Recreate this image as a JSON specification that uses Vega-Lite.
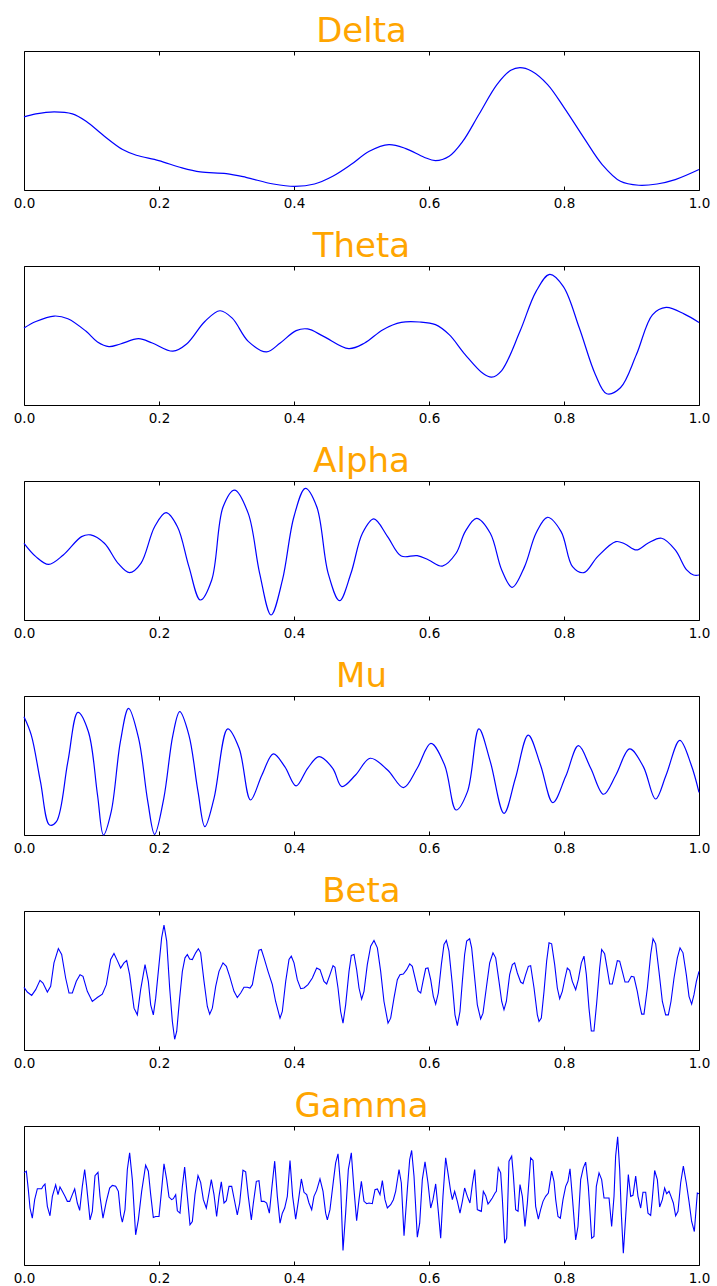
{
"$schema":"https://vega.github.io/schema/vega-lite/v6.json",
"background":"white",
"padding":{"left":12,"top":14,"right":5,"bottom":5},
"spacing":19,
"datasets":{
"delta":[{"t":0,"v":0.526},{"t":0.0176,"v":0.548},{"t":0.0447,"v":0.5625},{"t":0.0717,"v":0.548},{"t":0.092,"v":0.495},{"t":0.1191,"v":0.387},{"t":0.1461,"v":0.291},{"t":0.1664,"v":0.25},{"t":0.1996,"v":0.2115},{"t":0.2341,"v":0.159},{"t":0.2612,"v":0.13},{"t":0.2997,"v":0.118},{"t":0.3288,"v":0.091},{"t":0.3694,"v":0.043},{"t":0.4012,"v":0.026},{"t":0.4303,"v":0.043},{"t":0.4574,"v":0.099},{"t":0.4844,"v":0.183},{"t":0.5115,"v":0.279},{"t":0.5406,"v":0.327},{"t":0.5656,"v":0.298},{"t":0.5927,"v":0.236},{"t":0.6096,"v":0.2115},{"t":0.6299,"v":0.243},{"t":0.6502,"v":0.351},{"t":0.6739,"v":0.543},{"t":0.7009,"v":0.76},{"t":0.7212,"v":0.861},{"t":0.7348,"v":0.88},{"t":0.7517,"v":0.856},{"t":0.7754,"v":0.76},{"t":0.8004,"v":0.591},{"t":0.8295,"v":0.375},{"t":0.8566,"v":0.183},{"t":0.8836,"v":0.0625},{"t":0.9107,"v":0.034},{"t":0.9378,"v":0.043},{"t":0.9648,"v":0.0745},{"t":1,"v":0.147}],
"theta":[{"t":0,"v":0.554},{"t":0.0176,"v":0.601},{"t":0.0447,"v":0.64},{"t":0.065,"v":0.621},{"t":0.092,"v":0.53},{"t":0.1089,"v":0.453},{"t":0.1258,"v":0.42},{"t":0.1428,"v":0.439},{"t":0.1698,"v":0.477},{"t":0.1901,"v":0.446},{"t":0.2206,"v":0.387},{"t":0.2409,"v":0.439},{"t":0.2679,"v":0.601},{"t":0.2903,"v":0.678},{"t":0.3085,"v":0.625},{"t":0.3322,"v":0.458},{"t":0.3593,"v":0.382},{"t":0.3796,"v":0.446},{"t":0.4032,"v":0.535},{"t":0.4202,"v":0.547},{"t":0.4438,"v":0.494},{"t":0.4811,"v":0.406},{"t":0.5047,"v":0.446},{"t":0.5318,"v":0.542},{"t":0.5589,"v":0.594},{"t":0.5859,"v":0.597},{"t":0.6096,"v":0.578},{"t":0.6299,"v":0.506},{"t":0.6536,"v":0.363},{"t":0.6807,"v":0.224},{"t":0.6928,"v":0.2},{"t":0.7077,"v":0.248},{"t":0.7348,"v":0.53},{"t":0.7585,"v":0.816},{"t":0.7788,"v":0.94},{"t":0.7991,"v":0.852},{"t":0.8227,"v":0.554},{"t":0.8464,"v":0.22},{"t":0.8633,"v":0.081},{"t":0.8836,"v":0.124},{"t":0.9073,"v":0.363},{"t":0.931,"v":0.649},{"t":0.9513,"v":0.702},{"t":0.9784,"v":0.654},{"t":1,"v":0.594}],
"alpha":[{"t":0,"v":0.552},{"t":0.0176,"v":0.456},{"t":0.0365,"v":0.4},{"t":0.0582,"v":0.468},{"t":0.0853,"v":0.6},{"t":0.0988,"v":0.612},{"t":0.1191,"v":0.552},{"t":0.1394,"v":0.408},{"t":0.1563,"v":0.341},{"t":0.1732,"v":0.408},{"t":0.1935,"v":0.671},{"t":0.2104,"v":0.772},{"t":0.2273,"v":0.671},{"t":0.2443,"v":0.384},{"t":0.2612,"v":0.144},{"t":0.2781,"v":0.288},{"t":0.295,"v":0.815},{"t":0.3119,"v":0.935},{"t":0.3322,"v":0.767},{"t":0.3491,"v":0.336},{"t":0.366,"v":0.036},{"t":0.3829,"v":0.288},{"t":0.3999,"v":0.743},{"t":0.4168,"v":0.947},{"t":0.4337,"v":0.815},{"t":0.4506,"v":0.336},{"t":0.4675,"v":0.139},{"t":0.4844,"v":0.336},{"t":0.5014,"v":0.624},{"t":0.5183,"v":0.727},{"t":0.5386,"v":0.6},{"t":0.5589,"v":0.46},{"t":0.5825,"v":0.463},{"t":0.5995,"v":0.432},{"t":0.6198,"v":0.388},{"t":0.6401,"v":0.48},{"t":0.6536,"v":0.636},{"t":0.6705,"v":0.731},{"t":0.6908,"v":0.624},{"t":0.7077,"v":0.36},{"t":0.7233,"v":0.235},{"t":0.7416,"v":0.384},{"t":0.7585,"v":0.624},{"t":0.7754,"v":0.739},{"t":0.7957,"v":0.636},{"t":0.8126,"v":0.384},{"t":0.8295,"v":0.341},{"t":0.8498,"v":0.456},{"t":0.8769,"v":0.564},{"t":0.8904,"v":0.547},{"t":0.9073,"v":0.504},{"t":0.9242,"v":0.552},{"t":0.9445,"v":0.588},{"t":0.9648,"v":0.504},{"t":0.9817,"v":0.36},{"t":0.9919,"v":0.324},{"t":1,"v":0.324}],
"mu":[{"t":0,"v":0.851},{"t":0.0108,"v":0.719},{"t":0.0244,"v":0.384},{"t":0.0379,"v":0.072},{"t":0.048,"v":0.096},{"t":0.065,"v":0.528},{"t":0.0798,"v":0.882},{"t":0.0954,"v":0.743},{"t":0.1089,"v":0.288},{"t":0.1177,"v":0},{"t":0.1292,"v":0.168},{"t":0.1428,"v":0.671},{"t":0.1549,"v":0.911},{"t":0.1698,"v":0.695},{"t":0.1834,"v":0.24},{"t":0.1935,"v":0.005},{"t":0.2071,"v":0.264},{"t":0.2206,"v":0.719},{"t":0.2307,"v":0.887},{"t":0.2443,"v":0.719},{"t":0.2578,"v":0.312},{"t":0.2679,"v":0.06},{"t":0.2815,"v":0.264},{"t":0.3018,"v":0.763},{"t":0.3187,"v":0.624},{"t":0.3356,"v":0.252},{"t":0.3525,"v":0.432},{"t":0.3694,"v":0.583},{"t":0.3863,"v":0.492},{"t":0.4032,"v":0.353},{"t":0.4202,"v":0.48},{"t":0.4371,"v":0.564},{"t":0.4574,"v":0.48},{"t":0.4709,"v":0.348},{"t":0.4912,"v":0.432},{"t":0.5129,"v":0.552},{"t":0.5386,"v":0.468},{"t":0.5622,"v":0.341},{"t":0.5825,"v":0.48},{"t":0.6028,"v":0.659},{"t":0.6231,"v":0.504},{"t":0.6401,"v":0.18},{"t":0.657,"v":0.312},{"t":0.6739,"v":0.763},{"t":0.6908,"v":0.528},{"t":0.7111,"v":0.156},{"t":0.728,"v":0.408},{"t":0.747,"v":0.719},{"t":0.7652,"v":0.504},{"t":0.7835,"v":0.233},{"t":0.8024,"v":0.42},{"t":0.8214,"v":0.643},{"t":0.8396,"v":0.48},{"t":0.8586,"v":0.293},{"t":0.8769,"v":0.432},{"t":0.8972,"v":0.619},{"t":0.9175,"v":0.492},{"t":0.9357,"v":0.259},{"t":0.9513,"v":0.432},{"t":0.9716,"v":0.681},{"t":0.9885,"v":0.504},{"t":1,"v":0.307}],
"beta":[{"t":0,"v":0.451},{"t":0.0049,"v":0.417},{"t":0.0114,"v":0.393},{"t":0.0173,"v":0.434},{"t":0.0237,"v":0.501},{"t":0.0281,"v":0.482},{"t":0.0346,"v":0.417},{"t":0.0395,"v":0.458},{"t":0.0444,"v":0.627},{"t":0.0509,"v":0.73},{"t":0.0558,"v":0.687},{"t":0.0617,"v":0.518},{"t":0.0667,"v":0.41},{"t":0.0716,"v":0.41},{"t":0.0775,"v":0.494},{"t":0.083,"v":0.542},{"t":0.0874,"v":0.53},{"t":0.0938,"v":0.422},{"t":0.1012,"v":0.349},{"t":0.1086,"v":0.378},{"t":0.116,"v":0.402},{"t":0.122,"v":0.47},{"t":0.1284,"v":0.651},{"t":0.1333,"v":0.694},{"t":0.1383,"v":0.643},{"t":0.1432,"v":0.59},{"t":0.1481,"v":0.627},{"t":0.1521,"v":0.643},{"t":0.1565,"v":0.542},{"t":0.163,"v":0.301},{"t":0.1679,"v":0.253},{"t":0.1728,"v":0.434},{"t":0.1793,"v":0.614},{"t":0.1842,"v":0.494},{"t":0.1877,"v":0.325},{"t":0.1916,"v":0.253},{"t":0.1951,"v":0.373},{"t":0.2,"v":0.614},{"t":0.2039,"v":0.807},{"t":0.2074,"v":0.899},{"t":0.2114,"v":0.783},{"t":0.2158,"v":0.446},{"t":0.2198,"v":0.205},{"t":0.2232,"v":0.077},{"t":0.2262,"v":0.133},{"t":0.2306,"v":0.373},{"t":0.2346,"v":0.566},{"t":0.2385,"v":0.663},{"t":0.242,"v":0.687},{"t":0.2454,"v":0.655},{"t":0.2494,"v":0.651},{"t":0.2543,"v":0.699},{"t":0.2583,"v":0.728},{"t":0.2617,"v":0.699},{"t":0.2667,"v":0.494},{"t":0.2716,"v":0.313},{"t":0.2751,"v":0.258},{"t":0.279,"v":0.301},{"t":0.284,"v":0.458},{"t":0.2889,"v":0.566},{"t":0.2948,"v":0.627},{"t":0.2998,"v":0.602},{"t":0.3047,"v":0.53},{"t":0.3111,"v":0.422},{"t":0.316,"v":0.378},{"t":0.321,"v":0.41},{"t":0.3259,"v":0.451},{"t":0.3309,"v":0.451},{"t":0.3348,"v":0.446},{"t":0.3383,"v":0.47},{"t":0.3432,"v":0.602},{"t":0.3481,"v":0.718},{"t":0.3516,"v":0.723},{"t":0.3556,"v":0.663},{"t":0.3615,"v":0.566},{"t":0.3679,"v":0.47},{"t":0.3728,"v":0.349},{"t":0.3793,"v":0.229},{"t":0.3827,"v":0.277},{"t":0.3877,"v":0.494},{"t":0.3926,"v":0.651},{"t":0.396,"v":0.675},{"t":0.4,"v":0.627},{"t":0.4049,"v":0.506},{"t":0.4099,"v":0.441},{"t":0.4148,"v":0.446},{"t":0.4207,"v":0.47},{"t":0.4272,"v":0.518},{"t":0.4336,"v":0.59},{"t":0.4385,"v":0.578},{"t":0.4444,"v":0.494},{"t":0.4484,"v":0.475},{"t":0.4533,"v":0.542},{"t":0.4578,"v":0.607},{"t":0.4607,"v":0.595},{"t":0.4652,"v":0.446},{"t":0.4691,"v":0.277},{"t":0.4726,"v":0.193},{"t":0.4765,"v":0.325},{"t":0.4815,"v":0.566},{"t":0.4849,"v":0.68},{"t":0.4889,"v":0.687},{"t":0.4928,"v":0.578},{"t":0.4963,"v":0.446},{"t":0.5002,"v":0.366},{"t":0.5037,"v":0.422},{"t":0.5086,"v":0.614},{"t":0.5136,"v":0.747},{"t":0.5185,"v":0.788},{"t":0.5235,"v":0.735},{"t":0.5284,"v":0.566},{"t":0.5333,"v":0.349},{"t":0.5393,"v":0.193},{"t":0.5432,"v":0.229},{"t":0.5481,"v":0.373},{"t":0.5531,"v":0.506},{"t":0.557,"v":0.542},{"t":0.562,"v":0.547},{"t":0.5669,"v":0.578},{"t":0.5714,"v":0.619},{"t":0.5753,"v":0.602},{"t":0.5793,"v":0.518},{"t":0.5837,"v":0.427},{"t":0.5877,"v":0.41},{"t":0.5911,"v":0.494},{"t":0.5951,"v":0.586},{"t":0.5985,"v":0.59},{"t":0.6025,"v":0.506},{"t":0.6064,"v":0.386},{"t":0.6099,"v":0.33},{"t":0.6138,"v":0.41},{"t":0.6183,"v":0.614},{"t":0.6222,"v":0.759},{"t":0.6257,"v":0.788},{"t":0.6296,"v":0.711},{"t":0.6346,"v":0.47},{"t":0.6385,"v":0.253},{"t":0.642,"v":0.176},{"t":0.6459,"v":0.277},{"t":0.6494,"v":0.494},{"t":0.6528,"v":0.687},{"t":0.6558,"v":0.783},{"t":0.6602,"v":0.8},{"t":0.6632,"v":0.735},{"t":0.6667,"v":0.566},{"t":0.6716,"v":0.325},{"t":0.6765,"v":0.224},{"t":0.68,"v":0.265},{"t":0.6849,"v":0.446},{"t":0.6899,"v":0.627},{"t":0.6948,"v":0.699},{"t":0.6988,"v":0.663},{"t":0.7037,"v":0.494},{"t":0.7077,"v":0.349},{"t":0.7111,"v":0.289},{"t":0.7146,"v":0.349},{"t":0.7195,"v":0.542},{"t":0.7235,"v":0.614},{"t":0.7269,"v":0.627},{"t":0.7309,"v":0.554},{"t":0.7358,"v":0.489},{"t":0.7393,"v":0.477},{"t":0.7432,"v":0.542},{"t":0.7472,"v":0.602},{"t":0.7506,"v":0.607},{"t":0.7556,"v":0.446},{"t":0.7605,"v":0.253},{"t":0.763,"v":0.205},{"t":0.7664,"v":0.229},{"t":0.7704,"v":0.422},{"t":0.7743,"v":0.639},{"t":0.7778,"v":0.771},{"t":0.7817,"v":0.764},{"t":0.7862,"v":0.614},{"t":0.7901,"v":0.446},{"t":0.7936,"v":0.369},{"t":0.7975,"v":0.422},{"t":0.8015,"v":0.518},{"t":0.8049,"v":0.59},{"t":0.8084,"v":0.573},{"t":0.8123,"v":0.494},{"t":0.8173,"v":0.434},{"t":0.8212,"v":0.506},{"t":0.8257,"v":0.627},{"t":0.8296,"v":0.675},{"t":0.8331,"v":0.542},{"t":0.837,"v":0.301},{"t":0.8405,"v":0.137},{"t":0.8444,"v":0.137},{"t":0.8484,"v":0.337},{"t":0.8528,"v":0.59},{"t":0.8558,"v":0.723},{"t":0.8602,"v":0.692},{"t":0.8642,"v":0.578},{"t":0.8677,"v":0.475},{"t":0.8716,"v":0.475},{"t":0.8756,"v":0.566},{"t":0.879,"v":0.643},{"t":0.8825,"v":0.639},{"t":0.8864,"v":0.566},{"t":0.8904,"v":0.489},{"t":0.8953,"v":0.489},{"t":0.8998,"v":0.53},{"t":0.9037,"v":0.525},{"t":0.9086,"v":0.422},{"t":0.9121,"v":0.325},{"t":0.9151,"v":0.258},{"t":0.9185,"v":0.258},{"t":0.9235,"v":0.446},{"t":0.9284,"v":0.687},{"t":0.9319,"v":0.8},{"t":0.9358,"v":0.764},{"t":0.9407,"v":0.566},{"t":0.9457,"v":0.349},{"t":0.9506,"v":0.253},{"t":0.9546,"v":0.253},{"t":0.9585,"v":0.349},{"t":0.963,"v":0.518},{"t":0.9679,"v":0.663},{"t":0.9719,"v":0.735},{"t":0.9763,"v":0.699},{"t":0.9812,"v":0.542},{"t":0.9852,"v":0.386},{"t":0.9891,"v":0.33},{"t":0.9926,"v":0.398},{"t":0.9961,"v":0.494},{"t":1,"v":0.566}],
"gamma":[{"t":0,"v":0.663},{"t":0.0035,"v":0.675},{"t":0.0064,"v":0.542},{"t":0.0089,"v":0.41},{"t":0.0123,"v":0.337},{"t":0.0158,"v":0.47},{"t":0.0198,"v":0.549},{"t":0.0232,"v":0.549},{"t":0.0262,"v":0.549},{"t":0.0281,"v":0.566},{"t":0.0311,"v":0.583},{"t":0.0346,"v":0.422},{"t":0.0385,"v":0.354},{"t":0.042,"v":0.494},{"t":0.0469,"v":0.576},{"t":0.0504,"v":0.506},{"t":0.0533,"v":0.561},{"t":0.0568,"v":0.53},{"t":0.0607,"v":0.494},{"t":0.0642,"v":0.458},{"t":0.0677,"v":0.458},{"t":0.0716,"v":0.506},{"t":0.0751,"v":0.547},{"t":0.079,"v":0.446},{"t":0.0825,"v":0.393},{"t":0.0864,"v":0.566},{"t":0.0899,"v":0.687},{"t":0.0928,"v":0.566},{"t":0.0978,"v":0.325},{"t":0.1012,"v":0.386},{"t":0.1052,"v":0.643},{"t":0.1096,"v":0.667},{"t":0.1126,"v":0.494},{"t":0.117,"v":0.337},{"t":0.122,"v":0.458},{"t":0.1269,"v":0.554},{"t":0.1309,"v":0.573},{"t":0.1358,"v":0.566},{"t":0.1398,"v":0.53},{"t":0.1432,"v":0.361},{"t":0.1457,"v":0.308},{"t":0.1496,"v":0.398},{"t":0.1531,"v":0.687},{"t":0.1565,"v":0.807},{"t":0.1605,"v":0.614},{"t":0.1654,"v":0.217},{"t":0.1694,"v":0.325},{"t":0.1743,"v":0.53},{"t":0.1802,"v":0.718},{"t":0.1842,"v":0.675},{"t":0.1877,"v":0.506},{"t":0.1916,"v":0.342},{"t":0.1951,"v":0.349},{"t":0.2,"v":0.349},{"t":0.2039,"v":0.542},{"t":0.2074,"v":0.728},{"t":0.2114,"v":0.614},{"t":0.2148,"v":0.489},{"t":0.2188,"v":0.47},{"t":0.2212,"v":0.477},{"t":0.2247,"v":0.506},{"t":0.2272,"v":0.39},{"t":0.2311,"v":0.373},{"t":0.2346,"v":0.566},{"t":0.238,"v":0.704},{"t":0.242,"v":0.494},{"t":0.2459,"v":0.289},{"t":0.2494,"v":0.313},{"t":0.2533,"v":0.506},{"t":0.2578,"v":0.643},{"t":0.2617,"v":0.595},{"t":0.2657,"v":0.47},{"t":0.2701,"v":0.41},{"t":0.2741,"v":0.518},{"t":0.2775,"v":0.614},{"t":0.2815,"v":0.506},{"t":0.2854,"v":0.349},{"t":0.2889,"v":0.494},{"t":0.2923,"v":0.598},{"t":0.2963,"v":0.446},{"t":0.2998,"v":0.463},{"t":0.3037,"v":0.566},{"t":0.3077,"v":0.566},{"t":0.3111,"v":0.482},{"t":0.316,"v":0.361},{"t":0.3195,"v":0.446},{"t":0.3244,"v":0.682},{"t":0.3284,"v":0.67},{"t":0.3323,"v":0.494},{"t":0.3368,"v":0.325},{"t":0.3398,"v":0.446},{"t":0.3442,"v":0.602},{"t":0.3481,"v":0.607},{"t":0.3516,"v":0.458},{"t":0.3556,"v":0.458},{"t":0.3595,"v":0.446},{"t":0.3635,"v":0.373},{"t":0.3674,"v":0.566},{"t":0.3714,"v":0.747},{"t":0.3753,"v":0.494},{"t":0.3793,"v":0.301},{"t":0.3827,"v":0.373},{"t":0.3862,"v":0.41},{"t":0.3901,"v":0.494},{"t":0.3941,"v":0.752},{"t":0.398,"v":0.494},{"t":0.4025,"v":0.33},{"t":0.4064,"v":0.458},{"t":0.4109,"v":0.619},{"t":0.4148,"v":0.523},{"t":0.4188,"v":0.506},{"t":0.4222,"v":0.446},{"t":0.4262,"v":0.398},{"t":0.4296,"v":0.494},{"t":0.4336,"v":0.537},{"t":0.4385,"v":0.619},{"t":0.443,"v":0.53},{"t":0.4469,"v":0.373},{"t":0.4494,"v":0.325},{"t":0.4533,"v":0.398},{"t":0.4583,"v":0.602},{"t":0.4617,"v":0.735},{"t":0.4652,"v":0.8},{"t":0.4691,"v":0.566},{"t":0.4726,"v":0.104},{"t":0.4765,"v":0.373},{"t":0.4805,"v":0.687},{"t":0.4849,"v":0.807},{"t":0.4889,"v":0.542},{"t":0.4928,"v":0.318},{"t":0.4963,"v":0.47},{"t":0.4998,"v":0.602},{"t":0.5037,"v":0.458},{"t":0.5077,"v":0.441},{"t":0.5111,"v":0.446},{"t":0.516,"v":0.441},{"t":0.52,"v":0.542},{"t":0.5235,"v":0.547},{"t":0.5274,"v":0.506},{"t":0.5309,"v":0.607},{"t":0.5348,"v":0.47},{"t":0.5383,"v":0.41},{"t":0.5432,"v":0.434},{"t":0.5472,"v":0.47},{"t":0.5506,"v":0.53},{"t":0.5556,"v":0.687},{"t":0.559,"v":0.59},{"t":0.563,"v":0.21},{"t":0.5679,"v":0.542},{"t":0.5714,"v":0.759},{"t":0.5743,"v":0.824},{"t":0.5778,"v":0.639},{"t":0.5827,"v":0.2},{"t":0.5862,"v":0.301},{"t":0.5901,"v":0.614},{"t":0.5941,"v":0.742},{"t":0.5985,"v":0.59},{"t":0.6025,"v":0.41},{"t":0.6059,"v":0.47},{"t":0.6099,"v":0.583},{"t":0.6138,"v":0.386},{"t":0.6173,"v":0.193},{"t":0.6207,"v":0.494},{"t":0.6247,"v":0.771},{"t":0.6281,"v":0.663},{"t":0.6321,"v":0.53},{"t":0.6346,"v":0.47},{"t":0.638,"v":0.53},{"t":0.642,"v":0.458},{"t":0.6459,"v":0.373},{"t":0.6494,"v":0.458},{"t":0.6528,"v":0.554},{"t":0.6568,"v":0.494},{"t":0.6607,"v":0.446},{"t":0.6642,"v":0.578},{"t":0.6677,"v":0.687},{"t":0.6716,"v":0.398},{"t":0.6741,"v":0.393},{"t":0.6775,"v":0.386},{"t":0.6805,"v":0.53},{"t":0.684,"v":0.499},{"t":0.6874,"v":0.439},{"t":0.6904,"v":0.458},{"t":0.6938,"v":0.482},{"t":0.6978,"v":0.518},{"t":0.6998,"v":0.53},{"t":0.7027,"v":0.699},{"t":0.7062,"v":0.663},{"t":0.7086,"v":0.482},{"t":0.7121,"v":0.157},{"t":0.7151,"v":0.193},{"t":0.7185,"v":0.747},{"t":0.7225,"v":0.783},{"t":0.7249,"v":0.651},{"t":0.7284,"v":0.398},{"t":0.7319,"v":0.386},{"t":0.7348,"v":0.578},{"t":0.7383,"v":0.494},{"t":0.7422,"v":0.277},{"t":0.7457,"v":0.446},{"t":0.7506,"v":0.771},{"t":0.7541,"v":0.752},{"t":0.758,"v":0.422},{"t":0.762,"v":0.33},{"t":0.7654,"v":0.398},{"t":0.7689,"v":0.458},{"t":0.7728,"v":0.494},{"t":0.7768,"v":0.518},{"t":0.7817,"v":0.675},{"t":0.7852,"v":0.602},{"t":0.7877,"v":0.47},{"t":0.7911,"v":0.349},{"t":0.7946,"v":0.337},{"t":0.7985,"v":0.47},{"t":0.8025,"v":0.566},{"t":0.8059,"v":0.602},{"t":0.8089,"v":0.692},{"t":0.8123,"v":0.494},{"t":0.8173,"v":0.181},{"t":0.8207,"v":0.277},{"t":0.8247,"v":0.614},{"t":0.8286,"v":0.699},{"t":0.8321,"v":0.74},{"t":0.836,"v":0.566},{"t":0.841,"v":0.193},{"t":0.8444,"v":0.205},{"t":0.8479,"v":0.566},{"t":0.8519,"v":0.663},{"t":0.8558,"v":0.614},{"t":0.8593,"v":0.482},{"t":0.8627,"v":0.482},{"t":0.8667,"v":0.482},{"t":0.8706,"v":0.277},{"t":0.8741,"v":0.494},{"t":0.8765,"v":0.783},{"t":0.8795,"v":0.923},{"t":0.8825,"v":0.687},{"t":0.8849,"v":0.373},{"t":0.8879,"v":0.084},{"t":0.8914,"v":0.349},{"t":0.8953,"v":0.651},{"t":0.8988,"v":0.494},{"t":0.9022,"v":0.501},{"t":0.9062,"v":0.639},{"t":0.9096,"v":0.494},{"t":0.9136,"v":0.41},{"t":0.917,"v":0.523},{"t":0.921,"v":0.523},{"t":0.9244,"v":0.373},{"t":0.9284,"v":0.357},{"t":0.9309,"v":0.482},{"t":0.9343,"v":0.68},{"t":0.9383,"v":0.614},{"t":0.9417,"v":0.417},{"t":0.9457,"v":0.47},{"t":0.9491,"v":0.554},{"t":0.9521,"v":0.513},{"t":0.9556,"v":0.53},{"t":0.9585,"v":0.494},{"t":0.962,"v":0.446},{"t":0.9654,"v":0.354},{"t":0.9689,"v":0.386},{"t":0.9728,"v":0.59},{"t":0.9768,"v":0.711},{"t":0.9812,"v":0.59},{"t":0.9852,"v":0.458},{"t":0.9891,"v":0.313},{"t":0.9931,"v":0.241},{"t":0.9975,"v":0.518},{"t":1,"v":0.513}]
},
"vconcat":[
{"title":"Delta","width":675,"height":139,"data":{"name":"delta"},"resolve":{"axis":{"x":"independent"}},"layer":[
{"mark":{"type":"line","color":"#0000ff","strokeWidth":1.2,"interpolate":"catmull-rom"},"encoding":{"x":{"field":"t","type":"quantitative","scale":{"domain":[0,1],"nice":false,"zero":false},"axis":{"orient":"bottom","values":[0,0.2,0.4,0.6,0.8,1]}},"y":{"field":"v","type":"quantitative","scale":{"domain":[0,1],"nice":false},"axis":null}}},
{"mark":{"type":"line","opacity":0},"encoding":{"x":{"field":"t","type":"quantitative","axis":{"orient":"top","labels":false,"values":[0,0.2,0.4,0.6,0.8,1]}},"y":{"field":"v","type":"quantitative","axis":null}}}]},
{"title":"Theta","width":675,"height":139,"data":{"name":"theta"},"resolve":{"axis":{"x":"independent"}},"layer":[
{"mark":{"type":"line","color":"#0000ff","strokeWidth":1.2,"interpolate":"catmull-rom"},"encoding":{"x":{"field":"t","type":"quantitative","scale":{"domain":[0,1],"nice":false,"zero":false},"axis":{"orient":"bottom","values":[0,0.2,0.4,0.6,0.8,1]}},"y":{"field":"v","type":"quantitative","scale":{"domain":[0,1],"nice":false},"axis":null}}},
{"mark":{"type":"line","opacity":0},"encoding":{"x":{"field":"t","type":"quantitative","axis":{"orient":"top","labels":false,"values":[0,0.2,0.4,0.6,0.8,1]}},"y":{"field":"v","type":"quantitative","axis":null}}}]},
{"title":"Alpha","width":675,"height":139,"data":{"name":"alpha"},"resolve":{"axis":{"x":"independent"}},"layer":[
{"mark":{"type":"line","color":"#0000ff","strokeWidth":1.2,"interpolate":"catmull-rom"},"encoding":{"x":{"field":"t","type":"quantitative","scale":{"domain":[0,1],"nice":false,"zero":false},"axis":{"orient":"bottom","values":[0,0.2,0.4,0.6,0.8,1]}},"y":{"field":"v","type":"quantitative","scale":{"domain":[0,1],"nice":false},"axis":null}}},
{"mark":{"type":"line","opacity":0},"encoding":{"x":{"field":"t","type":"quantitative","axis":{"orient":"top","labels":false,"values":[0,0.2,0.4,0.6,0.8,1]}},"y":{"field":"v","type":"quantitative","axis":null}}}]},
{"title":"Mu","width":675,"height":139,"data":{"name":"mu"},"resolve":{"axis":{"x":"independent"}},"layer":[
{"mark":{"type":"line","color":"#0000ff","strokeWidth":1.2,"interpolate":"catmull-rom"},"encoding":{"x":{"field":"t","type":"quantitative","scale":{"domain":[0,1],"nice":false,"zero":false},"axis":{"orient":"bottom","values":[0,0.2,0.4,0.6,0.8,1]}},"y":{"field":"v","type":"quantitative","scale":{"domain":[0,1],"nice":false},"axis":null}}},
{"mark":{"type":"line","opacity":0},"encoding":{"x":{"field":"t","type":"quantitative","axis":{"orient":"top","labels":false,"values":[0,0.2,0.4,0.6,0.8,1]}},"y":{"field":"v","type":"quantitative","axis":null}}}]},
{"title":"Beta","width":675,"height":139,"data":{"name":"beta"},"resolve":{"axis":{"x":"independent"}},"layer":[
{"mark":{"type":"line","color":"#0000ff","strokeWidth":1.1,"interpolate":"linear"},"encoding":{"x":{"field":"t","type":"quantitative","scale":{"domain":[0,1],"nice":false,"zero":false},"axis":{"orient":"bottom","values":[0,0.2,0.4,0.6,0.8,1]}},"y":{"field":"v","type":"quantitative","scale":{"domain":[0,1],"nice":false},"axis":null}}},
{"mark":{"type":"line","opacity":0},"encoding":{"x":{"field":"t","type":"quantitative","axis":{"orient":"top","labels":false,"values":[0,0.2,0.4,0.6,0.8,1]}},"y":{"field":"v","type":"quantitative","axis":null}}}]},
{"title":"Gamma","width":675,"height":139,"data":{"name":"gamma"},"resolve":{"axis":{"x":"independent"}},"layer":[
{"mark":{"type":"line","color":"#0000ff","strokeWidth":1.1,"interpolate":"linear"},"encoding":{"x":{"field":"t","type":"quantitative","scale":{"domain":[0,1],"nice":false,"zero":false},"axis":{"orient":"bottom","values":[0,0.2,0.4,0.6,0.8,1]}},"y":{"field":"v","type":"quantitative","scale":{"domain":[0,1],"nice":false},"axis":null}}},
{"mark":{"type":"line","opacity":0},"encoding":{"x":{"field":"t","type":"quantitative","axis":{"orient":"top","labels":false,"values":[0,0.2,0.4,0.6,0.8,1]}},"y":{"field":"v","type":"quantitative","axis":null}}}]}
],
"config":{
"view":{"stroke":"#000000","strokeWidth":1},
"axis":{"domain":false,"grid":false,"title":null,"format":".1f","labelFont":"DejaVu Sans","labelFontSize":13.5,"labelColor":"#000000","labelFlush":false,"labelOverlap":false,"labelPadding":10,"tickSize":-4,"tickColor":"#000000","tickWidth":1},
"title":{"font":"DejaVu Sans","fontSize":34,"fontWeight":"normal","color":"#FFA500","anchor":"middle","baseline":"alphabetic","offset":1.2}
}
}
